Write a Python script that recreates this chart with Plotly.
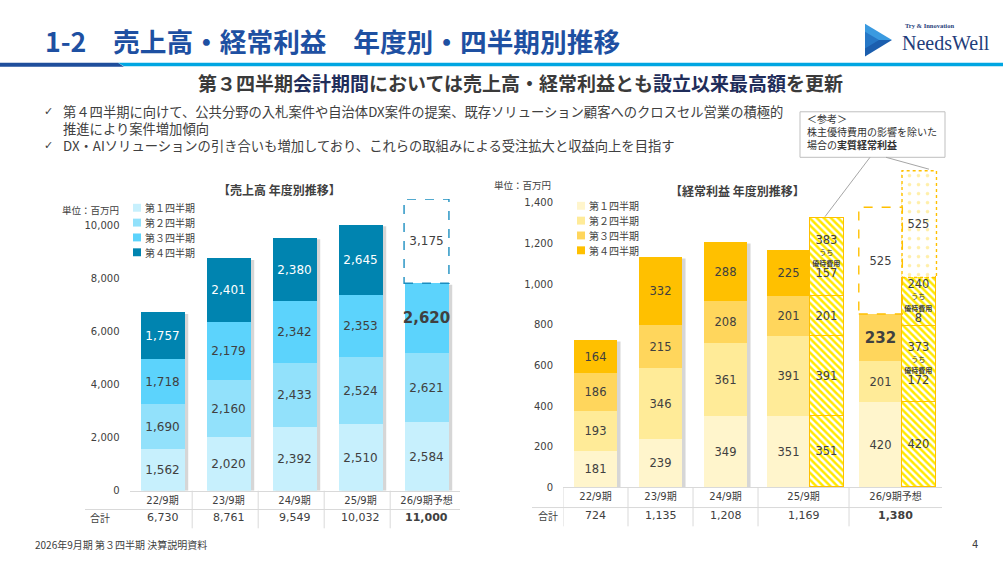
import plotly.graph_objects as go

W, H = 1003, 563


def px(x):
    return x / W


def py(y):
    return 1 - y / H


# ---- 売上高 (百万円)
YEARS = ["22/9期", "23/9期", "24/9期", "25/9期", "26/9期予想"]
QUARTERS = ["第１四半期", "第２四半期", "第３四半期", "第４四半期"]
SALES_Q1 = [1562, 2020, 2392, 2510, 2584]
SALES_Q2 = [1690, 2160, 2433, 2524, 2621]
SALES_Q3 = [1718, 2179, 2342, 2353, 2620]
SALES_Q4 = [1757, 2401, 2380, 2645, 3175]
SALES_TOTAL = ["6,730", "8,761", "9,549", "10,032", "11,000"]
SALES_TICKS = [0, 2000, 4000, 6000, 8000, 10000]

# ---- 経常利益 (百万円)
PROFIT_Q1 = [181, 239, 349, 351, 420]
PROFIT_Q2 = [193, 346, 361, 391, 201]
PROFIT_Q3 = [186, 215, 208, 201, 232]
PROFIT_Q4 = [164, 332, 288, 225, 525]
PROFIT_TOTAL = ["724", "1,135", "1,208", "1,169", "1,380"]
PROFIT_TICKS = [0, 200, 400, 600, 800, 1000, 1200, 1400]

# 株主優待費用の影響を除いた場合の実質経常利益
ADJ_YEARS = ["25/9期", "26/9期予想"]
ADJ_Q1 = [351, 420]
ADJ_Q2 = [391, 373]
ADJ_Q3 = [201, 240]
ADJ_Q4 = [383, 525]
BENEFIT_Q2 = [None, 172]
BENEFIT_Q3 = [None, 8]
BENEFIT_Q4 = [157, None]

SALES_COLORS = ["#C7F0FD", "#92E1FB", "#5CD3FC", "#0084B0"]
PROFIT_COLORS = ["#FFF5CC", "#FFEB98", "#FFD65C", "#FFC000"]
TXT = "#404040"
NUM_FONT = "DejaVu Sans, Noto Sans CJK JP"
JP_FONT = "Noto Sans CJK JP"

# right chart column layout (relative widths)
COL_W = [1, 1, 1, 1.4, 1.43]
bounds = [0]
for w in COL_W:
    bounds.append(bounds[-1] + w)
centers = [(bounds[i] + bounds[i + 1]) / 2 for i in range(len(COL_W))]
MAIN_SHIFT = -0.23
ADJ_SHIFT = 0.365
MAIN_W = 0.67
ADJ_W = 0.53
SALES_W = 0.68

main_x = [c + (MAIN_SHIFT if y in ADJ_YEARS else 0) for c, y in zip(centers, YEARS)]
adj_x = [centers[YEARS.index(y)] + ADJ_SHIFT for y in ADJ_YEARS]


def fmt(v):
    return f"{v:,}"


def span(s, size):
    return f"<span style='font-size:{size}px'>{s}</span>"


shapes = []
annotations = []


def note(x, y, text, size, xanchor="center", family=JP_FONT, color=TXT, xref="paper"):
    annotations.append(dict(x=x, y=y, xref=xref, yref="paper", xanchor=xanchor, yanchor="middle",
                            align=xanchor if xanchor != "center" else "center",
                            text=text, showarrow=False, font=dict(family=family, size=size, color=color)))


fig = go.Figure()

# ---- 売上高 bars
sales = [SALES_Q1, SALES_Q2, SALES_Q3, SALES_Q4]
for qi, vals in enumerate(sales):
    text = [fmt(v) for v in vals]
    sizes = [12] * len(vals)
    colors = [SALES_COLORS[qi]] * len(vals)
    tcolors = ["white" if qi == 3 else TXT] * len(vals)
    if qi == 2:
        text[-1] = "<b>" + text[-1] + "</b>"
        sizes[-1] = 15
    if qi == 3:
        colors[-1] = "white"
        tcolors[-1] = TXT
    fig.add_trace(go.Bar(
        x=YEARS, y=vals, xaxis="x", yaxis="y", width=SALES_W,
        marker=dict(color=colors, line=dict(width=0)),
        text=text, textposition="inside", insidetextanchor="middle",
        textangle=0, constraintext="none",
        textfont=dict(family=NUM_FONT, size=sizes, color=tcolors),
        showlegend=False, hoverinfo="skip"))

# shadows behind the actual (non-forecast) bars
for i in range(len(YEARS)):
    top = SALES_Q1[i] + SALES_Q2[i] + SALES_Q3[i] + (SALES_Q4[i] if i < len(YEARS) - 1 else 0)
    shapes.append(dict(type="rect", xref="x", yref="y", layer="below",
                       x0=i - SALES_W / 2 + 0.05, x1=i + SALES_W / 2 + 0.05, y0=0, y1=top - 60,
                       fillcolor="rgba(0,0,0,0.16)", line=dict(width=0)))

# ---- 経常利益 bars
profit = [PROFIT_Q1, PROFIT_Q2, PROFIT_Q3, PROFIT_Q4]
for qi, vals in enumerate(profit):
    text = [fmt(v) for v in vals]
    sizes = [11.5] * len(vals)
    colors = [PROFIT_COLORS[qi]] * len(vals)
    if qi == 2:
        text[-1] = "<b>" + text[-1] + "</b>"
        sizes[-1] = 15
    if qi == 3:
        colors[-1] = "white"
    fig.add_trace(go.Bar(
        x=main_x, y=vals, xaxis="x2", yaxis="y2", width=MAIN_W,
        marker=dict(color=colors, line=dict(width=0)),
        text=text, textposition="inside", insidetextanchor="middle",
        textangle=0, constraintext="none",
        textfont=dict(family=NUM_FONT, size=sizes, color=TXT),
        showlegend=False, hoverinfo="skip"))

for i, y in enumerate(YEARS):
    if y in ADJ_YEARS:
        continue
    top = PROFIT_Q1[i] + PROFIT_Q2[i] + PROFIT_Q3[i] + PROFIT_Q4[i]
    shapes.append(dict(type="rect", xref="x2", yref="y2", layer="below",
                       x0=main_x[i] - MAIN_W / 2 + 0.05, x1=main_x[i] + MAIN_W / 2 + 0.05, y0=0, y1=top - 6,
                       fillcolor="rgba(0,0,0,0.16)", line=dict(width=0)))

# ---- 実質経常利益 (hatched)
adj = [(ADJ_Q1, [None, None]), (ADJ_Q2, BENEFIT_Q2), (ADJ_Q3, BENEFIT_Q3), (ADJ_Q4, BENEFIT_Q4)]
for qi, (vals, ben) in enumerate(adj):
    text = []
    for v, b in zip(vals, ben):
        if b is None:
            text.append(span(fmt(v), 11.5))
        else:
            text.append(span(fmt(v), 11.5) + "<br>" + span("うち", 7) + "<br>"
                        + span("<b>優待費用</b>", 7) + "<br>" + span(fmt(b), 11.5))
    shapes_p = ["\\", "\\"]
    fg = ["#FFE900", "#FFE900"]
    sol = [0.5, 0.5]
    size = [5, 5]
    lc = ["#FFC000", "#FFC000"]
    if qi == 3:
        shapes_p[-1] = "."
        fg[-1] = "#FFEFA8"
        sol[-1] = 0.12
        size[-1] = 9
        lc[-1] = "rgba(0,0,0,0)"
    fig.add_trace(go.Bar(
        x=adj_x, y=vals, xaxis="x2", yaxis="y2", width=ADJ_W,
        marker=dict(color="white", line=dict(width=1.3, color=lc),
                    pattern=dict(shape=shapes_p, fgcolor=fg, bgcolor="white",
                                 solidity=sol, size=size, fillmode="replace")),
        text=text, textposition="inside", insidetextanchor="middle",
        textangle=0, constraintext="none",
        textfont=dict(family=NUM_FONT, size=8.5, color=TXT),
        showlegend=False, hoverinfo="skip"))

# forecast outlines
s_base = SALES_Q1[-1] + SALES_Q2[-1] + SALES_Q3[-1]
shapes.append(dict(type="rect", xref="x", yref="y", x0=4 - SALES_W / 2, x1=4 + SALES_W / 2,
                   y0=s_base, y1=s_base + SALES_Q4[-1],
                   line=dict(color="#1B8EC0", width=1.4, dash="dash")))
p_base = PROFIT_Q1[-1] + PROFIT_Q2[-1] + PROFIT_Q3[-1]
shapes.append(dict(type="rect", xref="x2", yref="y2",
                   x0=main_x[-1] - MAIN_W / 2, x1=main_x[-1] + MAIN_W / 2,
                   y0=p_base, y1=p_base + PROFIT_Q4[-1],
                   line=dict(color="#FFC000", width=1.4, dash="dash")))
a_base = ADJ_Q1[-1] + ADJ_Q2[-1] + ADJ_Q3[-1]
shapes.append(dict(type="rect", xref="x2", yref="y2",
                   x0=adj_x[-1] - ADJ_W / 2, x1=adj_x[-1] + ADJ_W / 2,
                   y0=a_base, y1=a_base + ADJ_Q4[-1],
                   line=dict(color="#FFC000", width=1.4, dash="dot")))

# header bar
shapes.append(dict(type="path", xref="paper", yref="paper",
                   path=f"M 0,{py(63.5)} L {px(118)},{py(63.5)} L {px(124)},{py(67.5)} L 0,{py(67.5)} Z",
                   fillcolor="#1F4E9C", line=dict(width=0)))
shapes.append(dict(type="path", xref="paper", yref="paper",
                   path=f"M {px(118)},{py(63.5)} L 1,{py(63.5)} L 1,{py(67)} L {px(124)},{py(67)} Z",
                   fillcolor="#00A6E2", line=dict(width=0)))
# logo
shapes.append(dict(type="path", xref="paper", yref="paper",
                   path=f"M {px(865)},{py(24)} L {px(892)},{py(40.5)} L {px(865)},{py(40.5)} Z",
                   fillcolor="#3A9AE0", line=dict(width=0)))
shapes.append(dict(type="path", xref="paper", yref="paper",
                   path=f"M {px(865)},{py(40.5)} L {px(892)},{py(40.5)} L {px(865)},{py(57)} Z",
                   fillcolor="#1B5EAE", line=dict(width=0)))
shapes.append(dict(type="path", xref="paper", yref="paper",
                   path=f"M {px(865)},{py(32)} L {px(879)},{py(40.5)} L {px(865)},{py(49)} Z",
                   fillcolor="#2677C6", line=dict(width=0)))

note(px(43), py(41), "<b>1-2　売上高・経常利益　年度別・四半期別推移</b>", 26.7, "left", color="#1E50A2")
note(px(903), py(26), "<b>Try &amp; Innovation</b>", 6.5, "left", "Liberation Serif", "#1F3D7A")
note(px(900), py(43), "NeedsWell", 20, "left", "Liberation Serif", "#1F3D7A")
NAVY = "#1F2D5A"
note(px(520), py(83),
     ("<b>第３四半期<span style='color:" + NAVY + "'>会計期間</span>"
      "においては売上高・経常利益とも<span style='color:" + NAVY + "'>設立以来最高額</span>を更新</b>"),
     19, "center", color="#3A3A3A")

bullets = [
    (113, "✓", "第４四半期に向けて、公共分野の入札案件や自治体DX案件の提案、既存ソリューション顧客へのクロスセル営業の積極的"),
    (130, "", "推進により案件増加傾向"),
    (147, "✓", "DX・AIソリューションの引き合いも増加しており、これらの取組みによる受注拡大と収益向上を目指す"),
]
for yy, mark, line in bullets:
    if mark:
        note(px(42), py(yy), mark, 11, "left", "DejaVu Sans")
    note(px(61), py(yy), line, 13.3, "left")

# 参考 box
shapes.append(dict(type="rect", xref="paper", yref="paper", x0=px(800), x1=px(945),
                   y0=py(159), y1=py(113), line=dict(color="#BFBFBF", width=1), fillcolor="white"))
shapes.append(dict(type="line", xref="paper", yref="paper", x0=px(870), y0=py(159),
                   x1=px(825), y1=py(219), line=dict(color="#A6A6A6", width=1)))
shapes.append(dict(type="line", xref="paper", yref="paper", x0=px(886), y0=py(159),
                   x1=px(929), y1=py(171), line=dict(color="#A6A6A6", width=1)))
note(px(805), py(133), "＜参考＞<br>株主優待費用の影響を除いた<br>場合の<b>実質経常利益</b>",
     10, "left", color="#333333")

# chart titles / unit labels
note(px(279), py(192), "<b>【売上高 年度別推移】</b>", 12)
note(px(737), py(193), "<b>【経常利益 年度別推移】</b>", 12)
note(px(121), py(212), "単位：百万円", 9.5, "right")
note(px(553), py(187), "単位：百万円", 9.5, "right")

# manual legends
for qi, q in enumerate(QUARTERS):
    for colors, lx, ly0 in [(SALES_COLORS, 133, 210), (PROFIT_COLORS, 577, 208)]:
        yy = ly0 + qi * 15
        shapes.append(dict(type="rect", xref="paper", yref="paper", x0=px(lx), x1=px(lx + 8),
                           y0=py(yy + 4), y1=py(yy - 4), fillcolor=colors[qi], line=dict(width=0)))
        note(px(lx + 10), py(yy), q, 10, "left")

# tables
GRID = "#D9D9D9"
shapes.append(dict(type="line", xref="paper", yref="paper", x0=px(85), x1=px(460),
                   y0=py(515), y1=py(515), line=dict(color=GRID, width=1)))
for i in range(len(YEARS)):
    shapes.append(dict(type="line", xref="x", yref="paper", x0=i - 0.55, x1=i - 0.55,
                       y0=py(496), y1=py(534), line=dict(color=GRID, width=1)))
    t = ("<b>" + SALES_TOTAL[i] + "</b>") if i == len(YEARS) - 1 else SALES_TOTAL[i]
    note(i, py(523.5), t, 11, "center", NUM_FONT, xref="x")
shapes.append(dict(type="line", xref="paper", yref="paper", x0=px(532), x1=px(942),
                   y0=py(513), y1=py(513), line=dict(color=GRID, width=1)))
for i in range(len(YEARS)):
    shapes.append(dict(type="line", xref="x2", yref="paper", x0=bounds[i], x1=bounds[i],
                       y0=py(493), y1=py(532), line=dict(color=GRID, width=1)))
    t = ("<b>" + PROFIT_TOTAL[i] + "</b>") if i == len(YEARS) - 1 else PROFIT_TOTAL[i]
    note(centers[i], py(521.5), t, 11, "center", NUM_FONT, xref="x2")
note(px(100), py(523.5), "合計", 10)
note(px(548), py(521.5), "合計", 10)

# footer
note(px(33), py(550), "2026年9月期 第３四半期 決算説明資料", 10, "left")
note(px(975), py(550), "4", 10, "center", NUM_FONT)

axis_common = dict(showgrid=False, zeroline=False, fixedrange=True)
fig.update_layout(
    width=W, height=H, autosize=False,
    margin=dict(l=0, r=0, t=0, b=0),
    paper_bgcolor="white", plot_bgcolor="rgba(0,0,0,0)",
    barmode="stack", bargap=0, showlegend=False,
    xaxis=dict(domain=[px(129.5), px(459.5)], type="category", range=[-0.5, 4.5],
               showline=True, linecolor=GRID, ticks="", anchor="y",
               tickfont=dict(family=NUM_FONT, size=10, color=TXT), **axis_common),
    yaxis=dict(domain=[py(496), py(201.2)], range=[0, 11000], tickvals=SALES_TICKS,
               tickformat=",", showline=False, ticks="", anchor="x", ticklabelstandoff=9,
               tickfont=dict(family=NUM_FONT, size=10, color=TXT), **axis_common),
    xaxis2=dict(domain=[px(563), px(942)], range=[0, bounds[-1]], tickvals=centers,
                ticktext=YEARS, showline=True, linecolor=GRID, ticks="", anchor="y2",
                tickfont=dict(family=NUM_FONT, size=10, color=TXT), **axis_common),
    yaxis2=dict(domain=[py(492.7), py(163.9)], range=[0, 1600], tickvals=PROFIT_TICKS,
                tickformat=",", showline=False, ticks="", anchor="x2", ticklabelstandoff=9,
                tickfont=dict(family=NUM_FONT, size=10, color=TXT), **axis_common),
    shapes=shapes, annotations=annotations,
)

page_fix = ("document.documentElement.style.overflow='hidden';"
            "document.body.style.margin='0px';"
            "document.body.style.overflow='hidden';")
fig.write_html("out.html", config={"displayModeBar": False}, post_script=page_fix)
